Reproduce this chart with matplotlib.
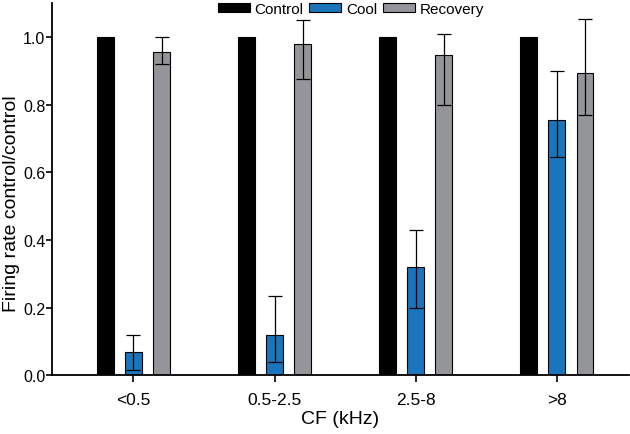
import matplotlib

matplotlib.use("Agg")

import matplotlib.pyplot as plt
import numpy as np

plt.rcParams["font.family"] = ["Liberation Sans", "DejaVu Sans"]

categories = ["<0.5", "0.5-2.5", "2.5-8", ">8"]
control = [1.0, 1.0, 1.0, 1.0]
cool = [0.07, 0.12, 0.32, 0.755]
cool_lo = [0.015, 0.04, 0.20, 0.645]
cool_hi = [0.12, 0.235, 0.43, 0.90]
recovery = [0.955, 0.98, 0.948, 0.895]
rec_lo = [0.92, 0.875, 0.80, 0.77]
rec_hi = [1.0, 1.05, 1.008, 1.055]

BLUE = "#1a75bc"
GRAY = "#939598"

fig = plt.figure(figsize=(6.3, 4.35), dpi=100)
ax = fig.add_axes([0.083, 0.135, 0.915, 0.855])

x = np.arange(len(categories))
w = 0.12
off = 0.2
ekw = dict(ecolor="black", elinewidth=0.9, capsize=5, capthick=0.9)

ax.bar(x - off, control, w, color="black", edgecolor="black", linewidth=0.8, label="Control")
cool_err = [np.subtract(cool, cool_lo), np.subtract(cool_hi, cool)]
ax.bar(x, cool, w, color=BLUE, edgecolor="black", linewidth=0.8, label="Cool",
       yerr=cool_err, error_kw=ekw)
rec_err = [np.subtract(recovery, rec_lo), np.subtract(rec_hi, recovery)]
ax.bar(x + off, recovery, w, color=GRAY, edgecolor="black", linewidth=0.8, label="Recovery",
       yerr=rec_err, error_kw=ekw)

ax.set_xlim(-0.575, 3.51)
ax.set_ylim(0, 1.1)
ax.set_yticks([0, 0.2, 0.4, 0.6, 0.8, 1.0])
ax.set_yticklabels(["0.0", "0.2", "0.4", "0.6", "0.8", "1.0"])
ax.set_xticks(x)
ax.set_xticklabels(categories)
ax.tick_params(axis="both", width=1.2, direction="out")
ax.tick_params(axis="x", labelsize=12.5, length=5, pad=7)
ax.tick_params(axis="y", labelsize=11.5, length=4, pad=1)

for side in ["top", "right"]:
    ax.spines[side].set_visible(False)
for side in ["left", "bottom"]:
    ax.spines[side].set_linewidth(1.3)

ax.set_xlabel("CF (kHz)", fontsize=14, labelpad=2)
ax.set_ylabel("Firing rate control/control", fontsize=14)
ax.yaxis.set_label_coords(-0.056, 0.464)

fig.legend(*ax.get_legend_handles_labels(), loc="upper center",
           bbox_to_anchor=(351 / 630, 0.997), ncol=3, frameon=False,
           fontsize=11, handlelength=2.1, handleheight=0.6, handletextpad=0.3,
           columnspacing=0.4, borderaxespad=0, borderpad=0.1)

fig.savefig("out.png", dpi=100, facecolor="white")
